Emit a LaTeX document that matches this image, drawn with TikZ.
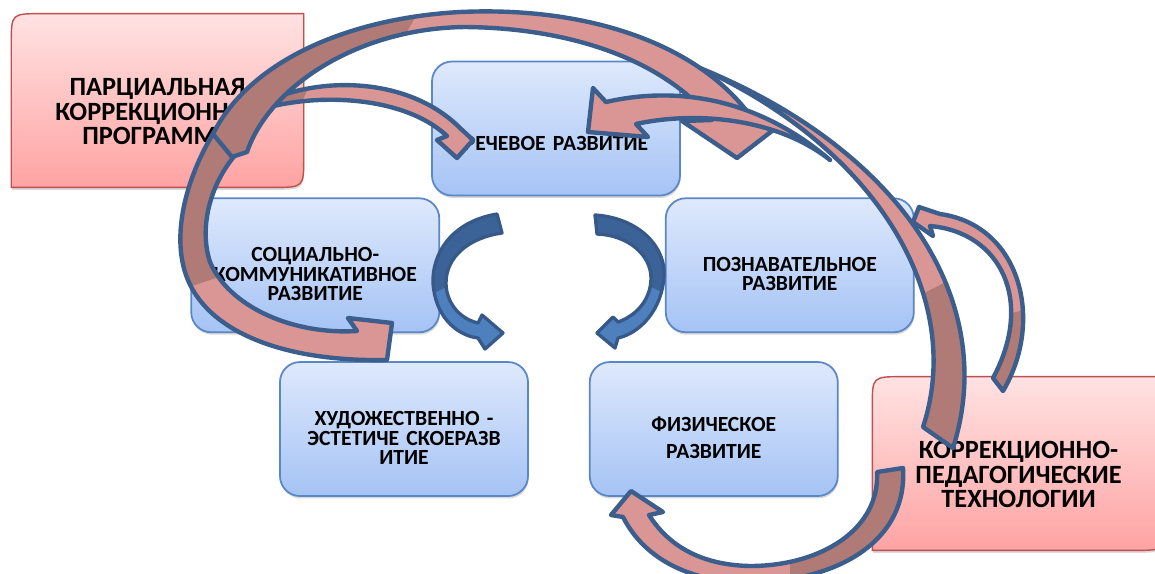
\documentclass[tikz,border=0pt]{standalone}
\usepackage{fontspec}
\setmainfont{Carlito}
\usetikzlibrary{positioning,shadows}
\pgfdeclarelayer{background}
\pgfsetlayers{background,main}
\definecolor{ribline}{RGB}{59,94,140}
\definecolor{pinkdark}{RGB}{176,122,119}
\definecolor{pinklight}{RGB}{217,150,148}
\definecolor{bluefill}{RGB}{79,128,190}
\definecolor{bluedark}{RGB}{60,99,152}
\definecolor{blueline}{RGB}{54,89,138}
\definecolor{boxtop}{RGB}{222,233,252}
\definecolor{boxbottom}{RGB}{165,195,245}
\definecolor{boxline}{RGB}{90,135,198}
\definecolor{redtop}{RGB}{255,226,226}
\definecolor{redbottom}{RGB}{255,163,163}
\definecolor{redline}{RGB}{192,80,77}
\tikzset{
  bluebox/.style={draw=boxline, line width=1pt, rounded corners=4mm,
    top color=boxtop, bottom color=boxbottom,
    minimum width=49.6mm, minimum height=26.8mm, text width=47mm, align=center,
    font=\bfseries\fontsize{12.3}{11}\selectfont,
    execute at begin node={\rule{0pt}{6.4mm}},
    drop shadow={opacity=0.3, shadow xshift=0.4pt, shadow yshift=-1.4pt}},
  redbox/.style={minimum width=58.2mm, minimum height=34.6mm, text width=56mm,
    align=center, font=\bfseries\fontsize{15}{14}\selectfont,
    execute at begin node={\rule{0pt}{7.9mm}}},
  redshape/.style={draw=redline, line width=0.8pt, top color=redtop, bottom color=redbottom,
    drop shadow={opacity=0.3, shadow xshift=0.4pt, shadow yshift=-1.4pt}},
  ribbon/.style={draw=ribline, line width=2.5pt, line join=round, fill=pinklight},
  bribbon/.style={draw=blueline, line width=1.9pt, line join=round, fill=bluefill},
  darkpart/.style={path picture={\fill[pinkdark] #1;}},
  bluedarkpart/.style={path picture={\fill[bluedark] #1;}},
}
% box with two rounded corners (top left, bottom right)
\newcommand{\diagpath}[2]{([yshift=-#2]#1.north west) .. controls (#1.north west) .. ([xshift=#2]#1.north west)
  -- (#1.north east) -- ([yshift=#2]#1.south east) .. controls (#1.south east) .. ([xshift=-#2]#1.south east)
  -- (#1.south west) -- cycle}

\begin{document}
\begin{tikzpicture}[x=0.2mm, y=-0.2mm]
  \useasboundingbox (0,0) rectangle (1155,573);

  % boxes
  \node[redbox] (parc) at (157.5,100.5) {ПАРЦИАЛЬНАЯ\\КОРРЕКЦИОННАЯ\\ПРОГРАММА};
  \node[bluebox, execute at begin node={\rule{0pt}{8.8mm}}] (rech) at (556,128.5) {РЕЧЕВОЕ РАЗВИТИЕ};
  \node[bluebox, below left=0.2mm and -1.8mm of rech] (soc) {СОЦИАЛЬНО-\\КОММУНИКАТИВНОЕ\\РАЗВИТИЕ};
  \node[bluebox, below right=0.2mm and -3.2mm of rech] (poz) {ПОЗНАВАТЕЛЬНОЕ\\РАЗВИТИЕ};
  \node[bluebox, below right=5.6mm and -32.2mm of soc] (hud) {ХУДОЖЕСТВЕННО -\\ЭСТЕТИЧЕ СКОЕРАЗВ\\ИТИЕ};
  \node[bluebox, right=12mm of hud] (fiz) {ФИЗИЧЕСКОЕ\\[4pt]РАЗВИТИЕ};
  \node[redbox] (korr) at (1018.5,463.5) {КОРРЕКЦИОННО-\\ПЕДАГОГИЧЕСКИЕ\\ТЕХНОЛОГИИ};
  \begin{pgfonlayer}{background}
    \path[redshape] \diagpath{parc}{6mm};
    \path[redshape] \diagpath{korr}{6mm};
  \end{pgfonlayer}

  % curved arrows in the middle
  \draw[bribbon, bluedarkpart={(420,200) -- (510,200) -- (510,255) -- (420,300) -- cycle}]
    (497,214) .. controls (450,222) and (432,255) .. (433,283)
    .. controls (435,315) and (455,335) .. (478,338)
    -- (485,349) -- (503,333) -- (482,315) -- (478,323)
    .. controls (457,318) and (446,300) .. (446,283)
    .. controls (446,258) and (467,238) .. (502,233) -- cycle;
  \draw[bribbon, bluedarkpart={(580,200) -- (680,200) -- (680,300) -- (580,255) -- cycle}]
    (595,215) .. controls (640,218) and (666,248) .. (664,276)
    .. controls (662,310) and (640,333) .. (618,338)
    -- (615,348) -- (597,333) -- (613,317) -- (618,322)
    .. controls (638,315) and (651,298) .. (651,278)
    .. controls (651,255) and (628,235) .. (597,234) -- cycle;

  % arrows from the programme
  \draw[ribbon, darkpart={(230,60) -- (320,60) -- (290,130) -- (230,130) -- cycle}]
    (245,115) .. controls (290,78) and (400,68) .. (460,128)
    -- (473,140) -- (457,158) -- (437,140) -- (447,136)
    .. controls (400,92) and (300,92) .. (245,115) -- cycle;
  \draw[ribbon, darkpart={(150,100) -- (300,100) -- (300,250) -- (150,300) -- cycle}]
    (214,132) .. controls (185,180) and (172,235) .. (186,275)
    .. controls (205,330) and (280,362) .. (387,360)
    -- (392,323) -- (348,318) -- (357,331)
    .. controls (290,335) and (228,305) .. (210,262)
    .. controls (198,225) and (212,180) .. (238,152) -- cycle;
  \draw[ribbon, darkpart={(150,0) -- (425,0) -- (300,220) -- (150,220) -- cycle}]
    (213,134) .. controls (250,60) and (350,18) .. (460,12)
    .. controls (590,6) and (700,45) .. (752,118)
    -- (772,131) -- (737,158) -- (682,121) -- (712,120)
    .. controls (665,62) and (575,28) .. (465,27)
    .. controls (360,28) and (270,85) .. (247,152)
    -- (232,157) -- cycle;

  % arrows from the technologies
  \draw[ribbon, darkpart={(850,330) -- (1050,230) -- (1050,480) -- (850,480) -- cycle}]
    (700,68) .. controls (900,150) and (1000,300) .. (953,448)
    -- (923,427) .. controls (965,300) and (880,150) .. (700,68) -- cycle;
  \draw[ribbon]
    (830,160) .. controls (760,100) and (680,85) .. (606,102)
    -- (593,88) -- (588,132) -- (648,137) -- (636,124)
    .. controls (700,110) and (780,120) .. (830,160) -- cycle;
  \draw[ribbon, darkpart={(950,330) -- (1060,300) -- (1060,400) -- (950,400) -- cycle}]
    (1003,391) .. controls (1045,320) and (1020,225) .. (940,214)
    -- (919,207) -- (913,222) -- (933,236) -- (930,226)
    .. controls (1000,232) and (1035,300) .. (993,378) -- cycle;
  \draw[ribbon, darkpart={(790,440) -- (950,440) -- (950,600) -- (790,600) -- cycle}]
    (903,468) .. controls (908,545) and (830,585) .. (740,582)
    .. controls (690,580) and (645,560) .. (623,517)
    -- (611,515) -- (631,491) -- (663,512) -- (649,515)
    .. controls (668,545) and (700,565) .. (750,566)
    .. controls (820,566) and (880,530) .. (877,472) -- cycle;
\end{tikzpicture}
\end{document}
